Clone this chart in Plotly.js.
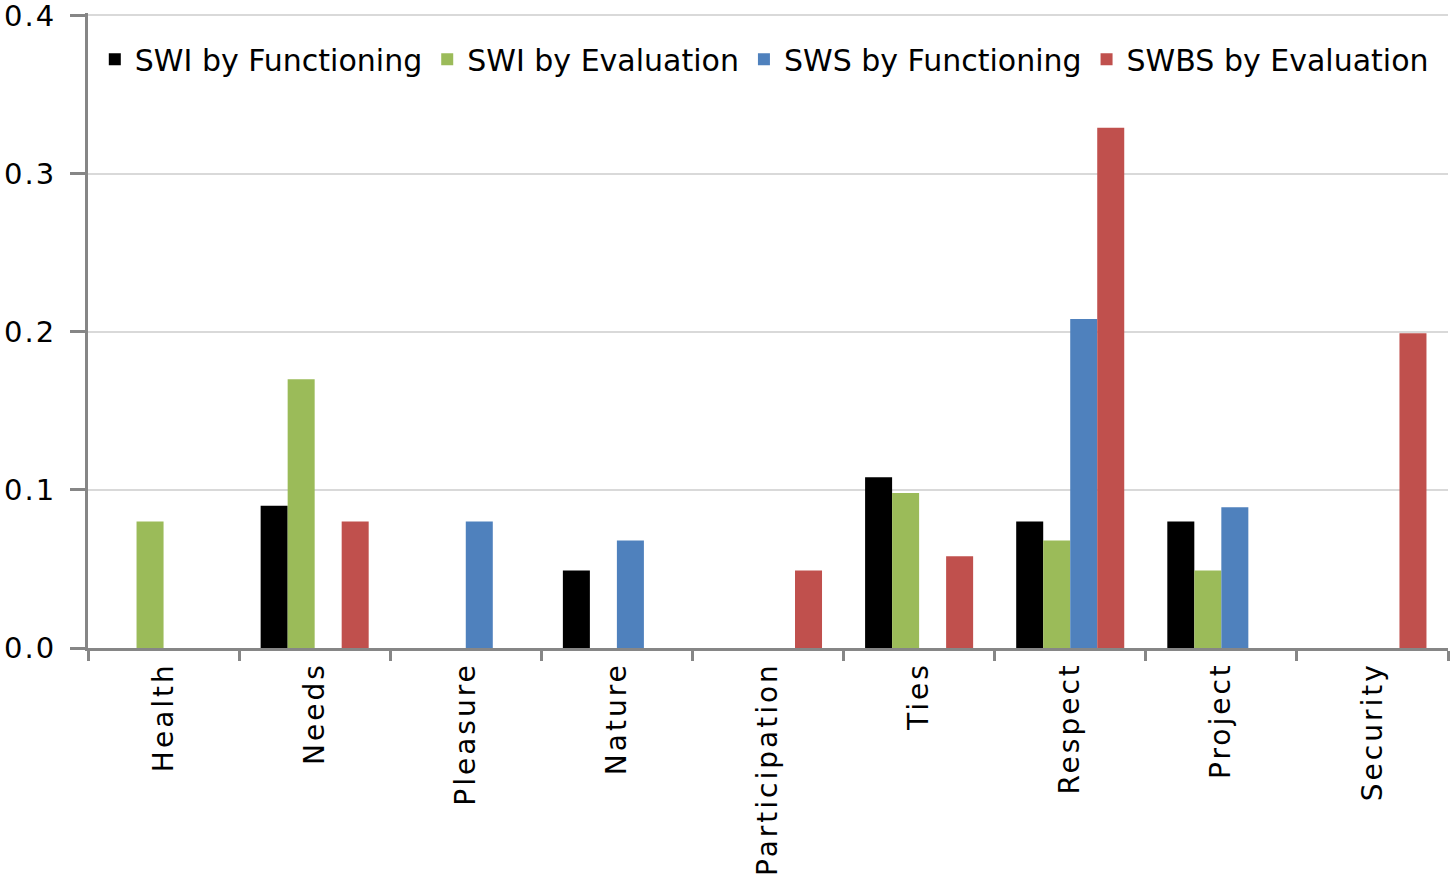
<!DOCTYPE html>
<html>
<head>
<meta charset="utf-8">
<script src="https://cdn.plot.ly/plotly-3.0.1.min.js"></script>
<style>
  html, body { margin: 0; padding: 0; background: #ffffff; }
  #chart { width: 1454px; height: 884px; }
  #chart .xtick text { letter-spacing: 3px; }
  #chart .ytick text { letter-spacing: 2px; }
</style>
</head>
<body>
<div id="chart"></div>
<script>
const FONT_FAMILY = "'DejaVu Sans', 'Open Sans', sans-serif";
const CATEGORIES = ["Health", "Needs", "Pleasure", "Nature", "Participation", "Ties", "Respect", "Project", "Security"];
const SWI_FUNCTIONING = [null, 0.09, null, 0.049, null, 0.108, 0.08, 0.08, null];
const SWI_EVALUATION = [0.08, 0.17, null, null, null, 0.098, 0.068, 0.049, null];
const SWS_FUNCTIONING = [null, null, 0.08, 0.068, null, null, 0.208, 0.089, null];
const SWBS_EVALUATION = [null, 0.08, null, null, 0.049, 0.058, 0.329, null, 0.199];
const Y_TICKS = [0, 0.1, 0.2, 0.3, 0.4];

const COLORS = {
  swiFunc: "#000000",
  swiEval: "#9bbb59",
  swsFunc: "#4f81bd",
  swbsEval: "#c0504d",
  axis: "#868686",
  grid: "#d9d9d9",
  text: "#000000",
};

function barTrace(name, values, color) {
  return {
    type: "bar",
    name,
    x: CATEGORIES,
    y: values,
    marker: { color, line: { width: 0 } },
    hoverinfo: "x+y+name",
  };
}

const traces = [
  barTrace("SWI by Functioning", SWI_FUNCTIONING, COLORS.swiFunc),
  barTrace("SWI by Evaluation", SWI_EVALUATION, COLORS.swiEval),
  barTrace("SWS by Functioning", SWS_FUNCTIONING, COLORS.swsFunc),
  barTrace("SWBS by Evaluation", SWBS_EVALUATION, COLORS.swbsEval),
];

const layout = {
  width: 1454,
  height: 884,
  margin: { l: 88, r: 6, t: 13, b: 236 },
  paper_bgcolor: "#ffffff",
  plot_bgcolor: "#ffffff",
  font: { family: FONT_FAMILY, color: COLORS.text, size: 28 },
  barmode: "group",
  bargap: 0.285,
  bargroupgap: 0,
  showlegend: true,
  legend: {
    orientation: "h",
    x: 0.005,
    y: 0.968,
    xanchor: "left",
    yanchor: "top",
    bgcolor: "rgba(0,0,0,0)",
    font: { family: FONT_FAMILY, size: 30 },
    itemwidth: 30,
    tracegroupgap: 0,
  },
  xaxis: {
    type: "category",
    tickson: "boundaries",
    ticks: "outside",
    ticklen: 10,
    tickwidth: 3,
    tickcolor: COLORS.axis,
    tickangle: -90,
    showline: true,
    linecolor: COLORS.axis,
    linewidth: 3,
    showgrid: false,
    zeroline: false,
    tickfont: { family: FONT_FAMILY, size: 28 },
    fixedrange: true,
  },
  yaxis: {
    range: [0, 0.4015],
    tickvals: Y_TICKS,
    tickformat: ".1f",
    ticks: "outside",
    ticklen: 15,
    tickwidth: 3,
    tickcolor: COLORS.axis,
    ticklabeloverflow: "allow",
    ticklabelstandoff: 8,
    showline: true,
    linecolor: COLORS.axis,
    linewidth: 3,
    showgrid: true,
    gridcolor: COLORS.grid,
    gridwidth: 2,
    zeroline: false,
    tickfont: { family: FONT_FAMILY, size: 29 },
    fixedrange: true,
  },
};

Plotly.newPlot("chart", traces, layout, { displayModeBar: false, staticPlot: true });
</script>
</body>
</html>
